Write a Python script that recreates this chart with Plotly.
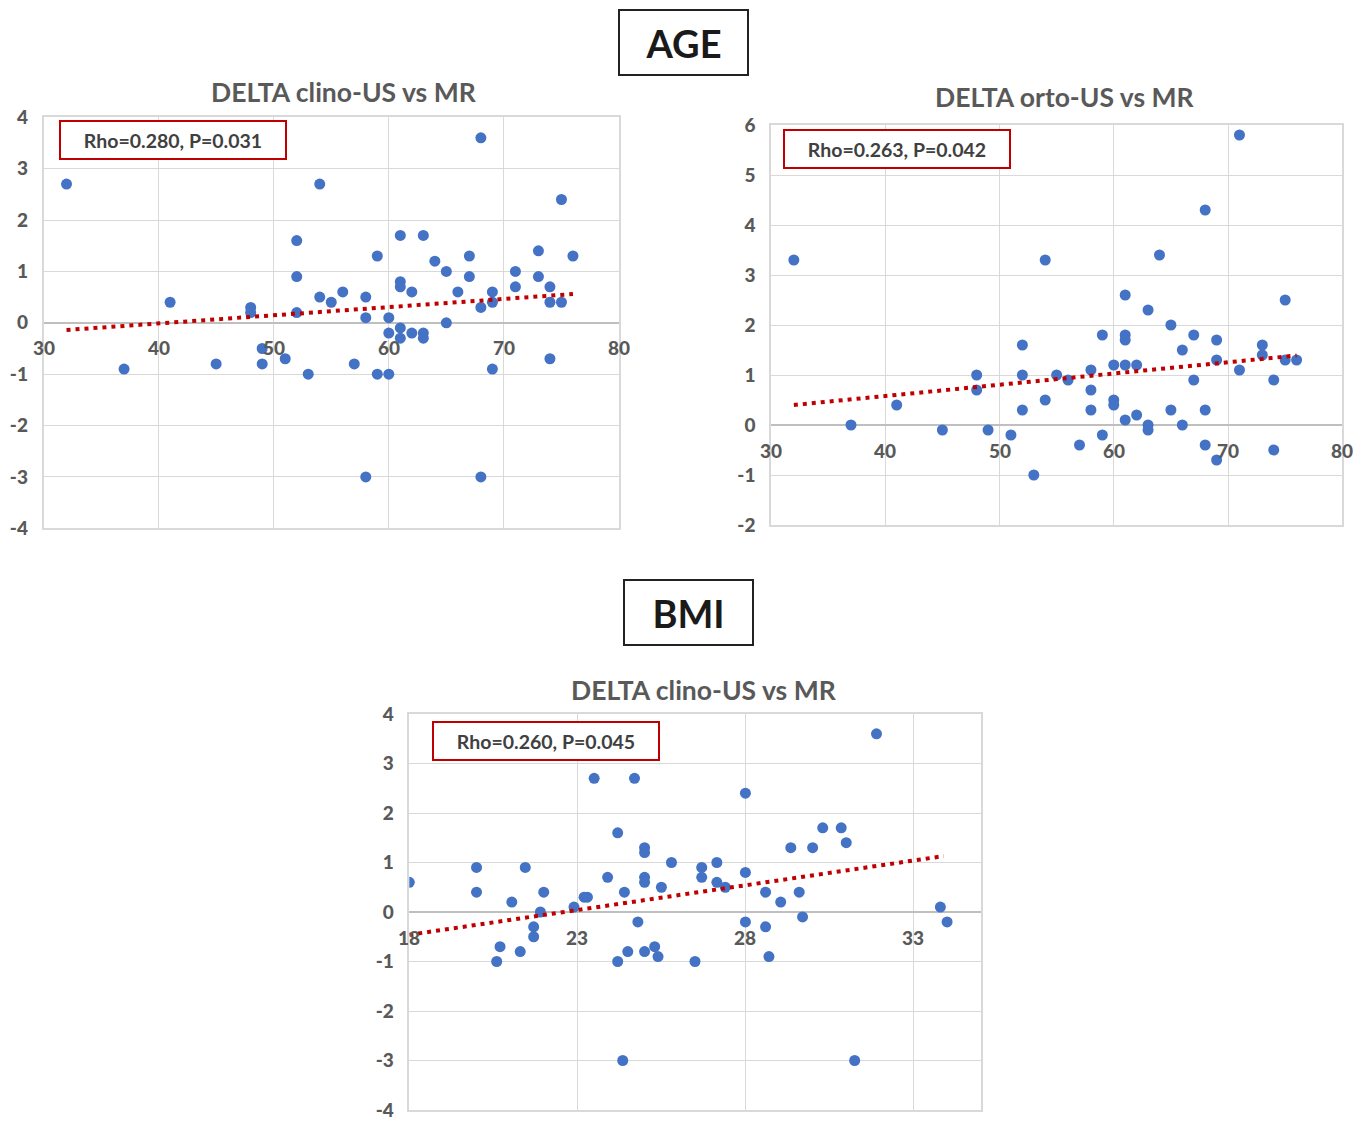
import plotly.graph_objects as go

# ---- data ----
age_clino = [32, 37, 41, 45, 48, 48, 49, 49, 51, 52, 52, 52, 53, 54, 54, 55,
             68, 75, 61, 63, 59, 67, 73, 76, 64, 65, 67, 71, 73, 61, 61, 62, 71, 74, 66, 69, 56, 58, 58, 60,
             68, 69, 74, 75, 65, 60, 61, 61, 62, 63, 63, 57, 59, 60, 69, 74, 58, 68]
delta_clino_age = [2.7, -0.9, 0.4, -0.8, 0.3, 0.2, -0.5, -0.8, -0.7, 1.6, 0.9, 0.2, -1.0, 2.7, 0.5, 0.4,
                   3.6, 2.4, 1.7, 1.7, 1.3, 1.3, 1.4, 1.3, 1.2, 1.0, 0.9, 1.0, 0.9, 0.8, 0.7, 0.6, 0.7, 0.7, 0.6, 0.6, 0.6, 0.5, 0.1, 0.1,
                   0.3, 0.4, 0.4, 0.4, 0.0, -0.2, -0.1, -0.3, -0.2, -0.2, -0.3, -0.8, -1.0, -1.0, -0.9, -0.7, -3.0, -3.0]

age_orto = [32, 37, 41, 45, 48, 48, 49, 51, 52, 52, 52, 53, 54, 54,
            71, 68, 64, 61, 63, 75, 65, 59, 61, 61, 67, 69, 73, 73, 66, 69, 75, 76, 60, 61, 62, 58, 71, 55, 56, 67, 74,
            58, 60, 60, 58, 65, 68, 61, 62, 63, 63, 66, 59, 57, 68, 69, 74]
delta_orto_age = [3.3, 0.0, 0.4, -0.1, 1.0, 0.7, -0.1, -0.2, 1.6, 1.0, 0.3, -1.0, 3.3, 0.5,
                  5.8, 4.3, 3.4, 2.6, 2.3, 2.5, 2.0, 1.8, 1.8, 1.7, 1.8, 1.7, 1.6, 1.4, 1.5, 1.3, 1.3, 1.3, 1.2, 1.2, 1.2, 1.1, 1.1, 1.0, 0.9, 0.9, 0.9,
                  0.7, 0.5, 0.4, 0.3, 0.3, 0.3, 0.1, 0.2, 0.0, -0.1, 0.0, -0.2, -0.4, -0.4, -0.7, -0.5]

bmi = [18.0, 20.0, 20.0, 20.6, 20.7, 21.05, 21.3, 21.45, 21.7, 21.7, 21.9, 22.0, 22.9, 23.2, 23.3, 23.5, 23.9,
       24.2, 24.2, 24.4, 24.35, 24.5, 24.7, 24.8, 25.0, 25.0, 25.0, 25.0, 25.0, 25.3, 25.4, 25.5, 25.8,
       26.5, 26.7, 26.7, 27.15, 27.15, 27.4, 28.0, 28.0, 28.0, 28.6, 28.6, 28.7, 29.05, 29.35, 29.6, 29.7,
       30.0, 30.3, 30.85, 31.0, 31.25, 31.9, 33.8, 34.0]
delta_clino_bmi = [0.6, 0.9, 0.4, -1.0, -0.7, 0.2, -0.8, 0.9, -0.3, -0.5, 0.0, 0.4, 0.1, 0.3, 0.3, 2.7, 0.7,
                   1.6, -1.0, 0.4, -3.0, -0.8, 2.7, -0.2, 1.3, 1.2, 0.7, 0.6, -0.8, -0.7, -0.9, 0.5, 1.0,
                   -1.0, 0.9, 0.7, 1.0, 0.6, 0.5, 2.4, 0.8, -0.2, 0.4, -0.3, -0.9, 0.2, 1.3, 0.4, -0.1,
                   1.3, 1.7, 1.7, 1.4, -3.0, 3.6, 0.1, -0.2]

# linear trendlines (end points)
trend_x = [[32, 76], [32, 76], [18, 33.9]]
trend_y = [[-0.14, 0.56], [0.40, 1.39], [-0.46, 1.13]]

titles = ["DELTA clino-US vs MR", "DELTA orto-US vs MR", "DELTA clino-US vs MR"]
stats = ["Rho=0.280, P=0.031", "Rho=0.263, P=0.042", "Rho=0.260, P=0.045"]
sections = ["AGE", "BMI"]
x_ticks = [[30, 40, 50, 60, 70, 80], [30, 40, 50, 60, 70, 80], [18, 23, 28, 33]]
y_ticks = [[-4, -3, -2, -1, 0, 1, 2, 3, 4], [-2, -1, 0, 1, 2, 3, 4, 5, 6], [-4, -3, -2, -1, 0, 1, 2, 3, 4]]
x_ranges = [[30, 80], [30, 80], [18, 35]]
y_ranges = [[-4, 4], [-2, 6], [-4, 4]]

OFF = 8  # default page body margin
W, H = 1370 - OFF, 1122 - OFF
def px(x): return (x - OFF) / W
def py(y): return 1 - (y - OFF) / H

# plot-area pixel boxes in the page: left, right, top, bottom
boxes = [(43.5, 619, 117.3, 528.3), (771, 1342.3, 125, 525), (409.3, 980.7, 714, 1110)]
title_pos = [(344, 92), (1065, 97), (704, 690)]
stat_pos = [(173, 140), (897, 149), (546, 741)]
section_pos = [(683.5, 42.5), (688.5, 612.5)]

BLUE = "#4472C4"
RED = "#C00000"
GRAY = "#595959"
GRID = "#d9d9d9"
FONT = "Lato"

fig = go.Figure()
series = [(age_clino, delta_clino_age), (age_orto, delta_orto_age), (bmi, delta_clino_bmi)]
layout = {}
annotations = []
for i, (xs, ys) in enumerate(series):
    n = "" if i == 0 else str(i + 1)
    xa, ya = "x" + n, "y" + n
    fig.add_trace(go.Scatter(x=xs, y=ys, mode="markers", xaxis=xa, yaxis=ya,
                             marker=dict(color=BLUE, size=11), showlegend=False, hoverinfo="x+y"))
    fig.add_trace(go.Scatter(x=trend_x[i], y=trend_y[i], mode="lines", xaxis=xa, yaxis=ya,
                             line=dict(color=RED, width=4, dash="4px,5px"), showlegend=False,
                             hoverinfo="skip"))
    l, r, t, bt = boxes[i]
    layout["xaxis" + n] = dict(domain=[px(l), px(r)], range=x_ranges[i], anchor=ya, automargin=False,
                               tickvals=x_ticks[i], showticklabels=False, showgrid=True, gridcolor=GRID,
                               gridwidth=1.2, zeroline=False, showline=True, linecolor=GRID, linewidth=1.5,
                               mirror=True, fixedrange=True)
    layout["yaxis" + n] = dict(domain=[py(bt), py(t)], range=y_ranges[i], anchor=xa, automargin=False,
                               tickvals=y_ticks[i], ticktext=[str(v) for v in y_ticks[i]],
                               ticklabeloverflow="allow",
                               showgrid=True, gridcolor=GRID, gridwidth=1.2, zeroline=True,
                               zerolinecolor="#bfbfbf", zerolinewidth=1.8, showline=True, linecolor=GRID,
                               linewidth=1.5, mirror=True, ticklabelstandoff=10,
                               tickfont=dict(family=FONT, size=19, color=GRAY, weight=900), fixedrange=True)
    for tv in x_ticks[i]:
        annotations.append(dict(x=tv, y=0, xref=xa, yref=ya, text=str(tv), showarrow=False,
                                yshift=-25, xanchor="center", yanchor="middle",
                                font=dict(family=FONT, size=19, color=GRAY, weight=900)))
    annotations.append(dict(x=px(title_pos[i][0]), y=py(title_pos[i][1]), xref="paper", yref="paper",
                            text=titles[i], showarrow=False, xanchor="center", yanchor="middle",
                            font=dict(family=FONT, size=26.5, color=GRAY, weight="bold")))
    annotations.append(dict(x=px(stat_pos[i][0]), y=py(stat_pos[i][1]), xref="paper", yref="paper",
                            text=stats[i], showarrow=False, xanchor="center", yanchor="middle",
                            width=222, height=34, bordercolor=RED, borderwidth=2, bgcolor="white",
                            font=dict(family=FONT, size=19.5, color="#404040", weight="bold")))

for j, s in enumerate(sections):
    annotations.append(dict(x=px(section_pos[j][0]), y=py(section_pos[j][1]), xref="paper", yref="paper",
                            text=s, showarrow=False, xanchor="center", yanchor="middle",
                            width=125, height=61, bordercolor="#222222", borderwidth=2, bgcolor="white",
                            font=dict(family=FONT, size=38, color="#1a1a1a", weight="bold")))

fig.update_layout(width=W, height=H, margin=dict(l=0, r=0, t=0, b=0), paper_bgcolor="white",
                  plot_bgcolor="white", annotations=annotations, **layout)
fig.write_html("out.html")
